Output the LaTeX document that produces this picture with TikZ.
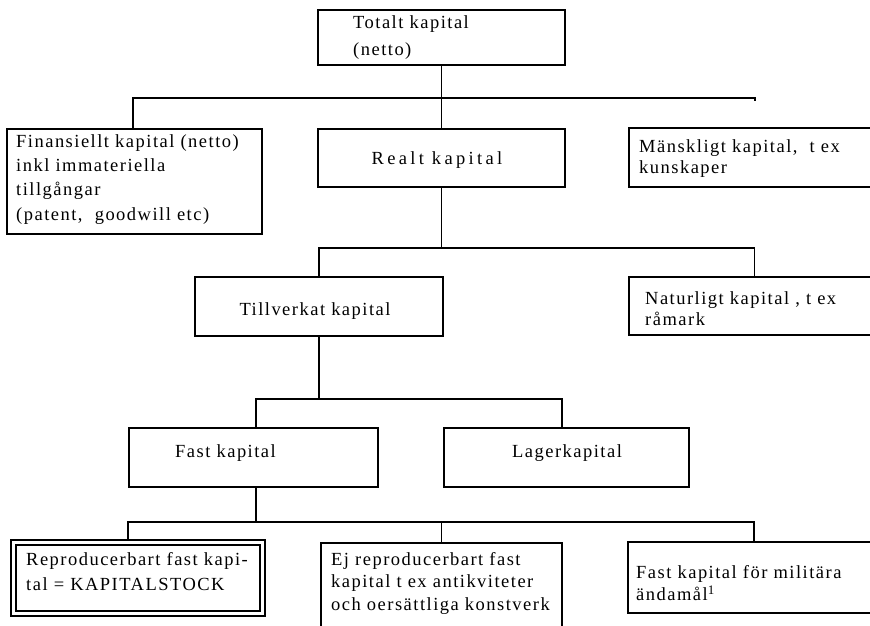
\documentclass[tikz,border=0pt]{standalone}
\usepackage{fontspec}
\setmainfont{Liberation Serif}[LetterSpace=8]
\begin{document}
\begin{tikzpicture}[x=1pt,y=-1pt,
  box/.style={draw, line width=1.5pt, anchor=north west, inner sep=0pt, outer sep=0pt},
  frame/.style={anchor=north west, inner sep=0pt, outer sep=0pt},
  txt/.style={inner sep=0pt, anchor=base west, align=left, font=\fontsize{18.5}{23}\selectfont},
  ctxt/.style={txt, anchor=base},
  link/.style={line width=1.5pt}]
\useasboundingbox (0,0) rectangle (870,625);
% boxes
\node[box, minimum width=247pt, minimum height=55pt] (tot) at (318,10) {};
\node[box, minimum width=255pt, minimum height=105pt] (fin) at (7,129) {};
\node[box, minimum width=247pt, minimum height=58pt] (real) at (318,129) {};
\node[box, minimum width=251pt, minimum height=59pt] (man) at (629,128) {};
\node[box, minimum width=248pt, minimum height=59pt] (till) at (195,277) {};
\node[box, minimum width=251pt, minimum height=58pt] (nat) at (629,277) {};
\node[box, minimum width=249pt, minimum height=59pt] (fast) at (129,428) {};
\node[box, minimum width=245pt, minimum height=59pt] (lager) at (444,428) {};
\node[box, double, double distance=3.6pt, outer sep=3.1pt, minimum width=249pt, minimum height=71pt] (rep) at (10.5,539.5) {};
\node[frame, minimum width=241pt, minimum height=100pt] (ej) at (321,543) {};
\draw[link] (ej.south west) -- (ej.north west) -- (ej.north east) -- (ej.south east);
\node[box, minimum width=252pt, minimum height=71pt] (mil) at (628,542) {};
% texts (anchor = baseline of the last line)
\node[txt, font=\fontsize{18.5}{27}\selectfont] (totT) at (353,55) {Totalt kapital\\(netto)};
\node[txt, font=\fontsize{18.5}{24.3}\selectfont] (finT) at (16,220) {Finansiellt kapital (netto)\\inkl immateriella\\tillgångar\\(patent,\ \ goodwill etc)};
\node[ctxt, font=\fontsize{18.5}{23}\selectfont\addfontfeature{LetterSpace=18}] (realT) at (437,164) {Realt kapital};
\node[txt, font=\fontsize{18.5}{21}\selectfont] (manT) at (639,173) {Mänskligt kapital,\ \ t ex\\kunskaper};
\node[ctxt] (tillT) at (315,315) {Tillverkat kapital};
\node[txt, font=\fontsize{18.5}{21}\selectfont] (natT) at (645,325) {Naturligt kapital , t ex\\råmark};
\node[txt] (fastT) at (175,457) {Fast kapital};
\node[ctxt] (lagerT) at (567,457) {Lagerkapital};
\node[txt, font=\fontsize{18.5}{25}\selectfont] (repT) at (26,590) {Reproducerbart fast kapi-\\tal = KAPITALSTOCK};
\node[txt, font=\fontsize{18.5}{22.5}\selectfont] (ejT) at (331,610) {Ej reproducerbart fast\\kapital t ex antikviteter\\och oersättliga konstverk};
\node[txt, font=\fontsize{18.5}{22}\selectfont] (milT) at (636,600) {Fast kapital för militära\\ändamål\raisebox{6pt}{\fontsize{13}{13}\selectfont 1}};
% connectors
\coordinate (b1l) at (133,98);
\coordinate (b1r) at (755,98);
\coordinate (b2) at (442,248);
\coordinate (b3l) at (256,399);
\coordinate (b3r) at (562,399);
\coordinate (b4l) at (128,522);
\draw[link] (tot.south) -- (real.north);
\draw[link] (fin.north -| b1l) -- (b1l) -- (b1r) -- ++(0,3);
\draw[link] (real.south) -- (real.south |- b2);
\draw[link] (till.north) |- (nat.north |- b2) -- (nat.north);
\draw[link] (till.south) -- (till.south |- b3l);
\draw[link] (b3l |- fast.north) -- (b3l) -- (b3r) -- (b3r |- lager.north);
\draw[link] (b3l |- fast.south) -- (b3l |- b4l);
\draw[link] (b4l |- rep.north) -- (b4l) -- (mil.north |- b4l) -- (mil.north);
\draw[link] (ej.north) -- (ej.north |- b4l);
\end{tikzpicture}
\end{document}
